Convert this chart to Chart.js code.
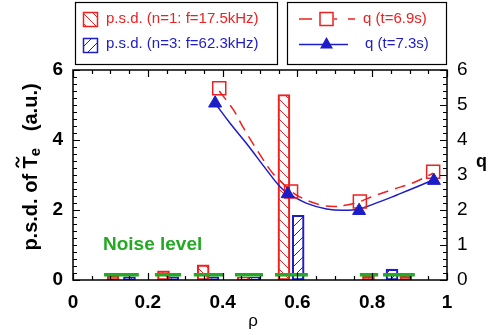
<!DOCTYPE html>
<html>
<head>
<meta charset="utf-8">
<script src="https://cdn.jsdelivr.net/npm/chart.js@4/dist/chart.umd.min.js"></script>
<style>
  html, body { margin: 0; padding: 0; background: #fff; }
  canvas { display: block; }
</style>
</head>
<body>
<canvas id="chart" width="488" height="335"></canvas>
<script>
// p.s.d. of Te fluctuations (left axis) and q profiles (right axis) vs rho
const psdRho1 = [0.107, 0.242, 0.348, 0.455, 0.564, 0.790, 0.890];
const psdN1 = [0.12, 0.26, 0.43, 0.08, 5.30, 0.11, 0.11];
const psdRho3 = [0.151, 0.267, 0.374, 0.484, 0.602, 0.853];
const psdN3 = [0.09, 0.09, 0.09, 0.08, 1.85, 0.31];

const noiseStart = [0.083, 0.219, 0.323, 0.433, 0.540, 0.767, 0.829];
const noiseEnd = [0.176, 0.289, 0.404, 0.508, 0.628, 0.816, 0.914];
const noiseLevel = 0.15;

const qRho69 = [0.391, 0.583, 0.767, 0.963];
const q69 = [5.48, 2.53, 2.24, 3.09];
const qRho73 = [0.380, 0.574, 0.765, 0.965];
const q73 = [5.05, 2.46, 1.98, 2.84];

// smooth fits through the q measurements
const fitRho69 = [0.391, 0.429, 0.455, 0.500, 0.531, 0.549, 0.583, 0.609, 0.660, 0.698, 0.736, 0.767, 0.807, 0.856, 0.910, 0.963];
const fitQ69 = [5.40, 4.86, 4.36, 3.58, 3.09, 2.88, 2.54, 2.36, 2.15, 2.10, 2.15, 2.24, 2.41, 2.59, 2.78, 3.05];
const fitRho73 = [0.380, 0.420, 0.464, 0.518, 0.553, 0.574, 0.625, 0.678, 0.722, 0.765, 0.821, 0.866, 0.910, 0.963];
const fitQ73 = [5.05, 4.48, 3.90, 3.14, 2.67, 2.48, 2.19, 2.03, 1.99, 2.03, 2.24, 2.43, 2.62, 2.86];

const xTicks = [0, 0.2, 0.4, 0.6, 0.8, 1];

const RED = '#ee2020';
const BLUE = '#1c1cc8';
const GREEN = '#22aa22';
const FONT = '"Liberation Sans", Arial, sans-serif';

function hatch(color, forward) {
  const c = document.createElement('canvas');
  c.width = c.height = 10;
  const g = c.getContext('2d');
  g.strokeStyle = color;
  g.lineWidth = 1;
  g.beginPath();
  if (forward) {
    g.moveTo(-5, 5); g.lineTo(5, -5);
    g.moveTo(0, 10); g.lineTo(10, 0);
    g.moveTo(5, 15); g.lineTo(15, 5);
  } else {
    g.moveTo(-5, 5); g.lineTo(5, 15);
    g.moveTo(0, 0); g.lineTo(10, 10);
    g.moveTo(5, -5); g.lineTo(15, 5);
  }
  g.stroke();
  return g.createPattern(c, 'repeat');
}

const ctx0 = document.getElementById('chart').getContext('2d');
const hatchRed = hatch(RED, false);
const hatchBlue = hatch(BLUE, true);

const zip = (xs, ys) => xs.map((x, i) => ({ x: x, y: ys[i] }));

const noiseData = [];
noiseStart.forEach((s, i) => {
  noiseData.push({ x: s, y: noiseLevel }, { x: noiseEnd[i], y: noiseLevel }, { x: noiseEnd[i], y: null });
});

// frame, inward ticks, titles and the two legend boxes
const decorations = {
  id: 'decorations',
  afterDraw(chart) {
    const { ctx, chartArea: a, scales } = chart;
    const x = scales.x, yl = scales.y, yr = scales.y1;
    ctx.save();
    ctx.strokeStyle = '#000';
    ctx.lineWidth = 1.5;
    ctx.strokeRect(a.left, a.top, a.right - a.left, a.bottom - a.top);

    ctx.lineWidth = 1.2;
    ctx.beginPath();
    for (let i = 0; i <= 20; i++) {
      const v = i * 0.05;
      const px = Math.round(x.getPixelForValue(v)) + 0.5;
      const len = i % 4 === 0 ? 7 : 4;
      ctx.moveTo(px, a.bottom); ctx.lineTo(px, a.bottom - len);
      ctx.moveTo(px, a.top); ctx.lineTo(px, a.top + len);
    }
    for (let i = 0; i <= 30; i++) {
      const v = i * 0.2;
      const pl = Math.round(yl.getPixelForValue(v)) + 0.5;
      ctx.moveTo(a.left, pl); ctx.lineTo(a.left + (i % 10 === 0 ? 7 : 4), pl);
      const pr = Math.round(yr.getPixelForValue(v)) + 0.5;
      ctx.moveTo(a.right, pr); ctx.lineTo(a.right - (i % 5 === 0 ? 7 : 4), pr);
    }
    ctx.stroke();

    // axis titles
    ctx.fillStyle = '#000';
    ctx.textBaseline = 'alphabetic';
    ctx.font = '17px ' + FONT;
    ctx.textAlign = 'center';
    ctx.fillText('ρ', 253, 326);

    ctx.font = 'bold 18px ' + FONT;
    ctx.textAlign = 'left';
    ctx.fillText('q', 476, 167);

    ctx.save();
    ctx.translate(37, 167);
    ctx.rotate(-Math.PI / 2);
    const big = 'bold 20px ' + FONT, small = 'bold 15px ' + FONT;
    ctx.font = big;
    const w1 = ctx.measureText('p.s.d. of ').width;
    const wT = ctx.measureText('T').width;
    const w3 = ctx.measureText('   (a.u.)').width;
    ctx.font = small;
    const wE = ctx.measureText('e').width;
    let cx = -(w1 + wT + wE + w3) / 2;
    ctx.font = big;
    ctx.fillText('p.s.d. of ', cx, 0); cx += w1;
    ctx.fillText('T', cx, 0);
    ctx.lineWidth = 1.8;
    ctx.beginPath();
    const tx = cx + wT / 2;
    ctx.moveTo(tx - 5, -18);
    ctx.bezierCurveTo(tx - 3, -22, tx - 1, -21, tx, -19.5);
    ctx.bezierCurveTo(tx + 1, -18, tx + 3, -17, tx + 5, -21);
    ctx.stroke();
    cx += wT;
    ctx.font = small;
    ctx.fillText('e', cx, 3); cx += wE;
    ctx.font = big;
    ctx.fillText('   (a.u.)', cx, 0);
    ctx.restore();

    ctx.font = 'bold 19px ' + FONT;
    ctx.fillStyle = GREEN;
    ctx.fillText('Noise level', 103, 250);

    // legend boxes
    ctx.lineWidth = 1.2;
    ctx.strokeStyle = '#000';
    ctx.strokeRect(75.5, 2.5, 202, 62);
    ctx.strokeRect(287.5, 2.5, 159, 62);

    ctx.font = '15px ' + FONT;
    ctx.textBaseline = 'middle';
    ctx.lineWidth = 1.5;
    ctx.fillStyle = hatchRed;
    ctx.fillRect(83.5, 12.5, 14, 14);
    ctx.strokeStyle = RED;
    ctx.strokeRect(83.5, 12.5, 14, 14);
    ctx.fillStyle = RED;
    ctx.fillText('p.s.d. (n=1: f=17.5kHz)', 106, 19);
    ctx.fillStyle = hatchBlue;
    ctx.fillRect(83.5, 38.5, 14, 14);
    ctx.strokeStyle = BLUE;
    ctx.strokeRect(83.5, 38.5, 14, 14);
    ctx.fillStyle = BLUE;
    ctx.fillText('p.s.d. (n=3: f=62.3kHz)', 106, 44);

    ctx.strokeStyle = RED;
    ctx.beginPath();
    ctx.moveTo(299, 19); ctx.lineTo(312, 19);
    ctx.moveTo(334, 19); ctx.lineTo(337, 19);
    ctx.moveTo(348, 19); ctx.lineTo(355, 19);
    ctx.stroke();
    ctx.strokeRect(320, 12.5, 13, 13);
    ctx.fillStyle = RED;
    ctx.fillText('q (t=6.9s)', 363, 19);

    ctx.strokeStyle = BLUE;
    ctx.beginPath();
    ctx.moveTo(299, 44.5); ctx.lineTo(348, 44.5);
    ctx.stroke();
    ctx.fillStyle = BLUE;
    ctx.beginPath();
    ctx.moveTo(326.5, 37); ctx.lineTo(333, 48.5); ctx.lineTo(320, 48.5);
    ctx.closePath(); ctx.fill();
    ctx.fillText('q (t=7.3s)', 365, 44);
    ctx.restore();
  }
};

new Chart(ctx0, {
  type: 'bar',
  data: {
    datasets: [
      {
        type: 'line', label: 'q (t=7.3s)', data: zip(qRho73, q73), yAxisID: 'y1',
        showLine: false, pointStyle: 'triangle', pointRadius: 7.5,
        pointBackgroundColor: BLUE, pointBorderColor: BLUE, order: 0
      },
      {
        type: 'line', label: 'q (t=6.9s)', data: zip(qRho69, q69), yAxisID: 'y1',
        showLine: false, pointStyle: 'rect', pointRadius: 9.2, pointBorderWidth: 1.5,
        pointBackgroundColor: 'rgba(0,0,0,0)', pointBorderColor: RED, order: 1
      },
      {
        type: 'line', label: 'fit 7.3s', data: zip(fitRho73, fitQ73), yAxisID: 'y1',
        borderColor: BLUE, borderWidth: 1.5, pointRadius: 0, tension: 0.4, order: 2
      },
      {
        type: 'line', label: 'fit 6.9s', data: zip(fitRho69, fitQ69), yAxisID: 'y1',
        borderColor: RED, borderWidth: 1.5, borderDash: [11, 7], pointRadius: 0,
        tension: 0.4, order: 3
      },
      {
        type: 'line', label: 'Noise level', data: noiseData, yAxisID: 'y',
        borderColor: GREEN, borderWidth: 3.5, pointRadius: 0, spanGaps: false, order: 4
      },
      {
        label: 'p.s.d. (n=1: f=17.5kHz)', data: zip(psdRho1, psdN1), yAxisID: 'y',
        backgroundColor: hatchRed, borderColor: RED, borderWidth: 1.5, borderSkipped: false,
        barThickness: 12, grouped: false, order: 5
      },
      {
        label: 'p.s.d. (n=3: f=62.3kHz)', data: zip(psdRho3, psdN3), yAxisID: 'y',
        backgroundColor: hatchBlue, borderColor: BLUE, borderWidth: 1.5, borderSkipped: false,
        barThickness: 12, grouped: false, order: 6
      }
    ]
  },
  options: {
    responsive: false,
    animation: false,
    layout: { padding: { top: 70, left: 0, right: 0, bottom: 0 } },
    plugins: { legend: { display: false }, tooltip: { enabled: false } },
    scales: {
      x: {
        type: 'linear', min: 0, max: 1, offset: false,
        grid: { display: false, drawTicks: false }, border: { display: false },
        afterBuildTicks: s => { s.ticks = xTicks.map(v => ({ value: v })); },
        afterFit: s => { s.height = 55; },
        ticks: {
          color: '#000', padding: 11, maxRotation: 0,
          callback: v => String(+v.toFixed(1)),
          font: { family: FONT, size: 19, weight: 'bold' }
        }
      },
      y: {
        position: 'left', min: 0, max: 6,
        grid: { display: false, drawTicks: false }, border: { display: false },
        afterFit: s => { s.width = 73; },
        ticks: { stepSize: 2, color: '#000', padding: 10, font: { family: FONT, size: 19, weight: 'bold' } }
      },
      y1: {
        position: 'right', min: 0, max: 6,
        grid: { display: false, drawTicks: false }, border: { display: false },
        afterFit: s => { s.width = 41; },
        ticks: { stepSize: 1, color: '#000', padding: 10, font: { family: FONT, size: 19 } }
      }
    }
  },
  plugins: [decorations]
});
</script>
</body>
</html>
